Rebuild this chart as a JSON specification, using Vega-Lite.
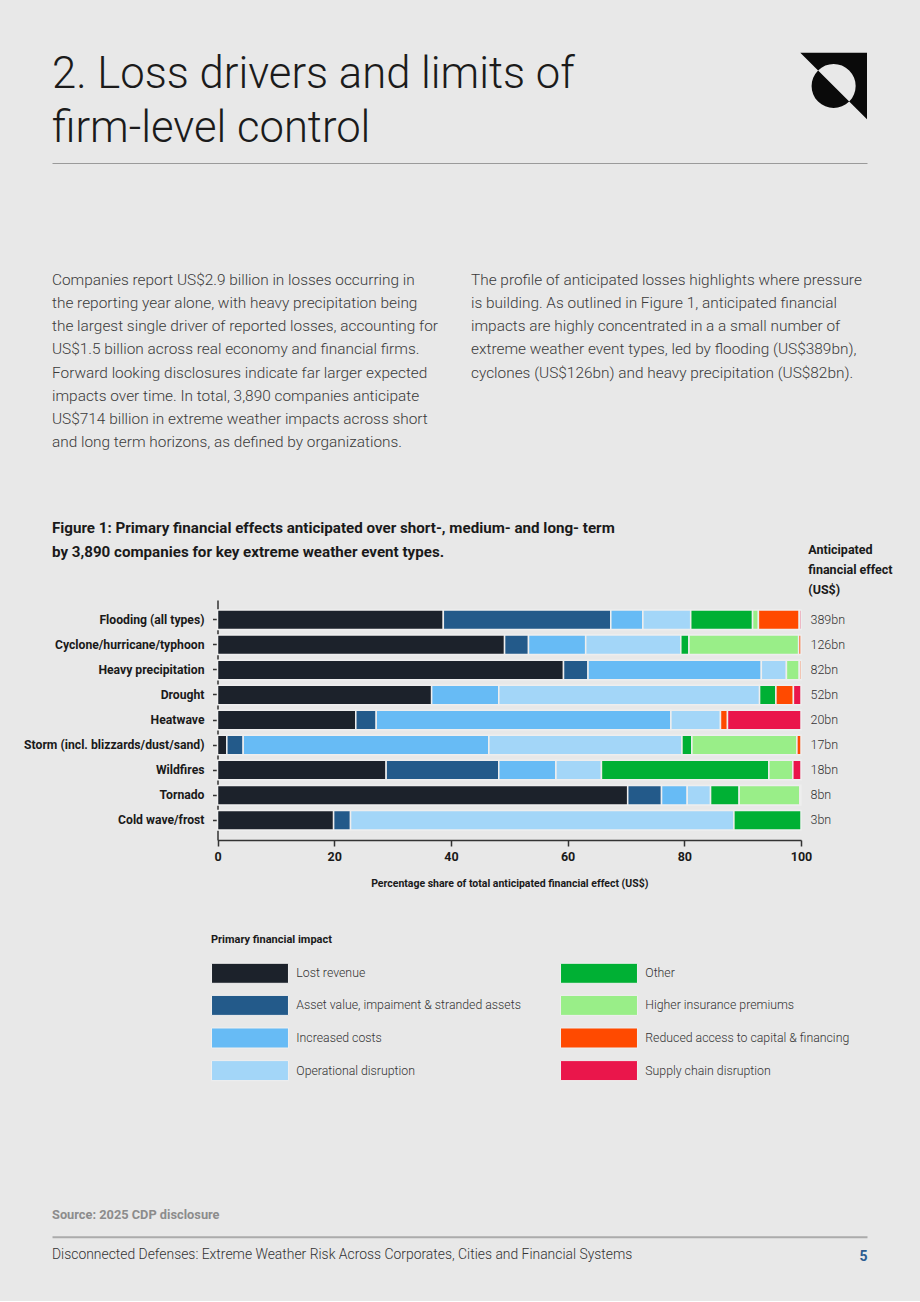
{
  "$schema": "https://vega.github.io/schema/vega-lite/v6.json",
  "background": "#e8e8e8",
  "padding": 0,
  "spacing": 0,
  "config": {
    "font": "Roboto",
    "view": {"stroke": null},
    "title": {"font": "Roboto"},
    "axis": {"labelFont": "Roboto", "titleFont": "Roboto"},
    "legend": {"labelFont": "Roboto", "titleFont": "Roboto"}
  },
  "datasets": {
    "shares": [
      {"event": "Flooding (all types)", "impact": "Lost revenue", "seq": 1, "share": 38.7},
      {"event": "Flooding (all types)", "impact": "Asset value, impaiment & stranded assets", "seq": 2, "share": 28.7},
      {"event": "Flooding (all types)", "impact": "Increased costs", "seq": 3, "share": 5.5},
      {"event": "Flooding (all types)", "impact": "Operational disruption", "seq": 4, "share": 8.2},
      {"event": "Flooding (all types)", "impact": "Other", "seq": 5, "share": 10.6},
      {"event": "Flooding (all types)", "impact": "Higher insurance premiums", "seq": 6, "share": 1.0},
      {"event": "Flooding (all types)", "impact": "Reduced access to capital & financing", "seq": 7, "share": 7.0},
      {"event": "Flooding (all types)", "impact": "Supply chain disruption", "seq": 8, "share": 0.3},
      {"event": "Cyclone/hurricane/typhoon", "impact": "Lost revenue", "seq": 1, "share": 49.2},
      {"event": "Cyclone/hurricane/typhoon", "impact": "Asset value, impaiment & stranded assets", "seq": 2, "share": 4.1},
      {"event": "Cyclone/hurricane/typhoon", "impact": "Increased costs", "seq": 3, "share": 9.8},
      {"event": "Cyclone/hurricane/typhoon", "impact": "Operational disruption", "seq": 4, "share": 16.3},
      {"event": "Cyclone/hurricane/typhoon", "impact": "Other", "seq": 5, "share": 1.4},
      {"event": "Cyclone/hurricane/typhoon", "impact": "Higher insurance premiums", "seq": 6, "share": 18.8},
      {"event": "Cyclone/hurricane/typhoon", "impact": "Reduced access to capital & financing", "seq": 7, "share": 0.4},
      {"event": "Heavy precipitation", "impact": "Lost revenue", "seq": 1, "share": 59.3},
      {"event": "Heavy precipitation", "impact": "Asset value, impaiment & stranded assets", "seq": 2, "share": 4.2},
      {"event": "Heavy precipitation", "impact": "Increased costs", "seq": 3, "share": 29.7},
      {"event": "Heavy precipitation", "impact": "Operational disruption", "seq": 4, "share": 4.3},
      {"event": "Heavy precipitation", "impact": "Higher insurance premiums", "seq": 6, "share": 2.2},
      {"event": "Heavy precipitation", "impact": "Reduced access to capital & financing", "seq": 7, "share": 0.3},
      {"event": "Drought", "impact": "Lost revenue", "seq": 1, "share": 36.7},
      {"event": "Drought", "impact": "Increased costs", "seq": 3, "share": 11.5},
      {"event": "Drought", "impact": "Operational disruption", "seq": 4, "share": 44.7},
      {"event": "Drought", "impact": "Other", "seq": 5, "share": 2.8},
      {"event": "Drought", "impact": "Reduced access to capital & financing", "seq": 7, "share": 3.0},
      {"event": "Drought", "impact": "Supply chain disruption", "seq": 8, "share": 1.3},
      {"event": "Heatwave", "impact": "Lost revenue", "seq": 1, "share": 23.7},
      {"event": "Heatwave", "impact": "Asset value, impaiment & stranded assets", "seq": 2, "share": 3.5},
      {"event": "Heatwave", "impact": "Increased costs", "seq": 3, "share": 50.5},
      {"event": "Heatwave", "impact": "Operational disruption", "seq": 4, "share": 8.5},
      {"event": "Heatwave", "impact": "Reduced access to capital & financing", "seq": 7, "share": 1.2},
      {"event": "Heatwave", "impact": "Supply chain disruption", "seq": 8, "share": 12.6},
      {"event": "Storm (incl. blizzards/dust/sand)", "impact": "Lost revenue", "seq": 1, "share": 1.6},
      {"event": "Storm (incl. blizzards/dust/sand)", "impact": "Asset value, impaiment & stranded assets", "seq": 2, "share": 2.8},
      {"event": "Storm (incl. blizzards/dust/sand)", "impact": "Increased costs", "seq": 3, "share": 42.1},
      {"event": "Storm (incl. blizzards/dust/sand)", "impact": "Operational disruption", "seq": 4, "share": 33.1},
      {"event": "Storm (incl. blizzards/dust/sand)", "impact": "Other", "seq": 5, "share": 1.7},
      {"event": "Storm (incl. blizzards/dust/sand)", "impact": "Higher insurance premiums", "seq": 6, "share": 18.0},
      {"event": "Storm (incl. blizzards/dust/sand)", "impact": "Reduced access to capital & financing", "seq": 7, "share": 0.7},
      {"event": "Wildfires", "impact": "Lost revenue", "seq": 1, "share": 28.9},
      {"event": "Wildfires", "impact": "Asset value, impaiment & stranded assets", "seq": 2, "share": 19.3},
      {"event": "Wildfires", "impact": "Increased costs", "seq": 3, "share": 9.8},
      {"event": "Wildfires", "impact": "Operational disruption", "seq": 4, "share": 7.8},
      {"event": "Wildfires", "impact": "Other", "seq": 5, "share": 28.7},
      {"event": "Wildfires", "impact": "Higher insurance premiums", "seq": 6, "share": 4.1},
      {"event": "Wildfires", "impact": "Supply chain disruption", "seq": 8, "share": 1.4},
      {"event": "Tornado", "impact": "Lost revenue", "seq": 1, "share": 70.3},
      {"event": "Tornado", "impact": "Asset value, impaiment & stranded assets", "seq": 2, "share": 5.8},
      {"event": "Tornado", "impact": "Increased costs", "seq": 3, "share": 4.4},
      {"event": "Tornado", "impact": "Operational disruption", "seq": 4, "share": 4.0},
      {"event": "Tornado", "impact": "Other", "seq": 5, "share": 4.9},
      {"event": "Tornado", "impact": "Higher insurance premiums", "seq": 6, "share": 10.4},
      {"event": "Tornado", "impact": "Supply chain disruption", "seq": 8, "share": 0.2},
      {"event": "Cold wave/frost", "impact": "Lost revenue", "seq": 1, "share": 19.9},
      {"event": "Cold wave/frost", "impact": "Asset value, impaiment & stranded assets", "seq": 2, "share": 2.9},
      {"event": "Cold wave/frost", "impact": "Operational disruption", "seq": 4, "share": 65.7},
      {"event": "Cold wave/frost", "impact": "Other", "seq": 5, "share": 11.5}
    ],
    "totals": [
      {"event": "Flooding (all types)", "total": "389bn"},
      {"event": "Cyclone/hurricane/typhoon", "total": "126bn"},
      {"event": "Heavy precipitation", "total": "82bn"},
      {"event": "Drought", "total": "52bn"},
      {"event": "Heatwave", "total": "20bn"},
      {"event": "Storm (incl. blizzards/dust/sand)", "total": "17bn"},
      {"event": "Wildfires", "total": "18bn"},
      {"event": "Tornado", "total": "8bn"},
      {"event": "Cold wave/frost", "total": "3bn"}
    ]
  },
  "vconcat": [
    {
      "width": 920,
      "height": 163,
      "title": {
        "text": ["2. Loss drivers and limits of", "firm-level control"],
        "orient": "bottom", "anchor": "start", "frame": "group", "baseline": "top",
        "offset": -108.6, "dx": 52,
        "fontSize": 43.6, "fontWeight": 300, "color": "#1b1b1b", "lineHeight": 53.5
      },
      "data": {"values": [{"emblem": "logo"}]},
      "mark": {
        "type": "point",
        "shape": "M-1,-1L1,-1L1,1Z M0.467,0.467A0.66,0.66,0,0,0,-0.467,-0.467Z M-0.467,-0.467A0.66,0.66,0,0,0,0.467,0.467Z",
        "size": 4449, "filled": true, "color": "#0a0a0a", "strokeWidth": 0, "opacity": 1,
        "xOffset": -33.35, "yOffset": 4.5
      },
      "encoding": {
        "x": {
          "datum": 1, "type": "quantitative",
          "scale": {"domain": [0, 1], "range": [52, 867]},
          "axis": {"orient": "bottom", "domain": true, "domainColor": "#9a9a9a", "domainWidth": 1, "ticks": false, "labels": false, "grid": false, "title": null}
        }
      }
    },
    {
      "hconcat": [
        {
          "width": 419, "height": 341.5,
          "data": {"values": []},
          "mark": "point",
          "title": {
            "text": [
              "Companies report US$2.9 billion in losses occurring in",
              "the reporting year alone, with heavy precipitation being",
              "the largest single driver of reported losses, accounting for",
              "US$1.5 billion across real economy and financial firms.",
              "Forward looking disclosures indicate far larger expected",
              "impacts over time. In total, 3,890 companies anticipate",
              "US$714 billion in extreme weather impacts across short",
              "and long term horizons, as defined by organizations."
            ],
            "orient": "bottom", "anchor": "start", "frame": "group", "baseline": "top",
            "offset": -231.7, "dx": 52,
            "fontSize": 15.4, "fontWeight": 300, "color": "#3a3a3a", "lineHeight": 23.2
          }
        },
        {
          "width": 501, "height": 341.5,
          "data": {"values": []},
          "mark": "point",
          "title": {
            "text": [
              "The profile of anticipated losses highlights where pressure",
              "is building. As outlined in Figure 1, anticipated financial",
              "impacts are highly concentrated in a a small number of",
              "extreme weather event types, led by flooding (US$389bn),",
              "cyclones (US$126bn) and heavy precipitation (US$82bn)."
            ],
            "orient": "bottom", "anchor": "start", "frame": "group", "baseline": "top",
            "offset": -231.7, "dx": 52,
            "fontSize": 15.4, "fontWeight": 300, "color": "#3a3a3a", "lineHeight": 23.2
          }
        }
      ],
      "spacing": 0,
      "bounds": "flush"
    },
    {
      "hconcat": [
        {
          "width": 760, "height": 95,
          "data": {"values": []},
          "mark": "point",
          "title": {
            "text": [
              "Figure 1: Primary financial effects anticipated over short-, medium- and long- term",
              "by 3,890 companies for key extreme weather event types."
            ],
            "orient": "bottom", "anchor": "start", "frame": "group", "baseline": "top",
            "offset": -79, "dx": 52,
            "fontSize": 15.15, "fontWeight": "bold", "color": "#1a1a1a", "lineHeight": 23.5
          }
        },
        {
          "width": 160, "height": 95,
          "data": {"values": []},
          "mark": "point",
          "title": {
            "text": ["Anticipated", "financial effect", "(US$)"],
            "orient": "bottom", "anchor": "start", "frame": "group", "baseline": "top",
            "offset": -55.9, "dx": 48.3,
            "fontSize": 12.5, "fontWeight": "bold", "color": "#1a1a1a", "lineHeight": 20
          }
        }
      ],
      "spacing": 0,
      "bounds": "flush"
    },
    {
      "width": 920,
      "height": 240,
      "layer": [
        {
          "data": {"name": "shares"},
          "mark": {"type": "bar", "stroke": "#eeeeee", "strokeWidth": 1.5},
          "encoding": {
            "y": {
              "field": "event", "type": "nominal",
              "sort": ["Flooding (all types)", "Cyclone/hurricane/typhoon", "Heavy precipitation", "Drought", "Heatwave", "Storm (incl. blizzards/dust/sand)", "Wildfires", "Tornado", "Cold wave/frost"],
              "scale": {"paddingInner": 0.22, "paddingOuter": 0.4},
              "axis": {
                "offset": -217.5, "title": null,
                "domainColor": "#333333", "domainWidth": 1.5,
                "tickColor": "#333333", "tickWidth": 1.5, "tickSize": 5,
                "labelPadding": 8.5, "labelFontSize": 12.2, "labelFontWeight": "bold", "labelColor": "#1a1a1a", "labelLimit": 300
              }
            },
            "x": {
              "field": "share", "type": "quantitative", "stack": "zero",
              "scale": {"domain": [0, 100], "range": [217.5, 801], "nice": false},
              "axis": {
                "values": [0, 20, 40, 60, 80, 100], "grid": false, "labelFlush": false,
                "domainColor": "#333333", "domainWidth": 1.5,
                "tickColor": "#333333", "tickWidth": 1.5, "tickSize": 6,
                "labelPadding": 4.5, "labelFontSize": 12.5, "labelFontWeight": "bold", "labelColor": "#1a1a1a",
                "title": "Percentage share of total anticipated financial effect (US$)",
                "titleFontSize": 10.5, "titleFontWeight": "bold", "titleColor": "#1a1a1a", "titlePadding": 15
              }
            },
            "color": {
              "field": "impact", "type": "nominal",
              "scale": {
                "domain": ["Lost revenue", "Asset value, impaiment & stranded assets", "Increased costs", "Operational disruption", "Other", "Higher insurance premiums", "Reduced access to capital & financing", "Supply chain disruption"],
                "range": ["#1c222b", "#235a8a", "#67bbf5", "#a3d6f8", "#00b034", "#99ee88", "#ff4a00", "#ea164b"]
              },
              "legend": {
                "orient": "none", "legendX": 211, "legendY": 934.3, "padding": 0,
                "title": "Primary financial impact",
                "values": ["Lost revenue", "Asset value, impaiment & stranded assets", "Increased costs", "Operational disruption", "Other", "Higher insurance premiums", "Reduced access to capital & financing", "Supply chain disruption"],
                "columns": 2, "columnPadding": 37, "rowPadding": 6.6,
                "symbolType": "M-4.05,-1.053H4.05V1.053H-4.05Z", "symbolSize": 361,
                "symbolStrokeColor": "#efefef", "symbolStrokeWidth": 1, "symbolOpacity": 1, "symbolOffset": 29,
                "labelOffset": 36.3, "labelFontSize": 12.3, "labelFontWeight": 300, "labelColor": "#333333", "labelLimit": 400,
                "titleFontSize": 11, "titleFontWeight": "bold", "titleColor": "#1a1a1a", "titlePadding": 17.5
              }
            },
            "order": {"field": "seq", "type": "quantitative"}
          }
        },
        {
          "data": {"name": "totals"},
          "mark": {"type": "text", "align": "left", "baseline": "middle", "dx": 9.5, "fontSize": 12.5, "fontWeight": 300, "color": "#333333"},
          "encoding": {
            "y": {
              "field": "event", "type": "nominal",
              "sort": ["Flooding (all types)", "Cyclone/hurricane/typhoon", "Heavy precipitation", "Drought", "Heatwave", "Storm (incl. blizzards/dust/sand)", "Wildfires", "Tornado", "Cold wave/frost"]
            },
            "x": {"datum": 100, "type": "quantitative"},
            "text": {"field": "total"}
          }
        }
      ]
    },
    {
      "width": 920,
      "height": 347.75,
      "title": {
        "text": "Source: 2025 CDP disclosure",
        "orient": "bottom", "anchor": "start", "frame": "group", "baseline": "top",
        "offset": -27.5, "dx": 52,
        "fontSize": 12.8, "fontWeight": "bold", "color": "#8c8c8c"
      },
      "data": {"values": []},
      "mark": "point",
      "encoding": {
        "x": {
          "field": "v", "type": "quantitative",
          "scale": {"domain": [0, 1], "range": [52, 867]},
          "axis": {"orient": "bottom", "domain": true, "domainColor": "#ababab", "domainWidth": 2, "ticks": false, "labels": false, "grid": false, "title": null}
        }
      }
    },
    {
      "hconcat": [
        {
          "width": 800, "height": 64,
          "data": {"values": []},
          "mark": "point",
          "title": {
            "text": "Disconnected Defenses: Extreme Weather Risk Across Corporates, Cities and Financial Systems",
            "orient": "bottom", "anchor": "start", "frame": "group", "baseline": "top",
            "offset": -53.5, "dx": 52,
            "fontSize": 13.9, "fontWeight": 300, "color": "#333333"
          }
        },
        {
          "width": 120, "height": 64,
          "data": {"values": []},
          "mark": "point",
          "title": {
            "text": "5",
            "orient": "bottom", "anchor": "end", "frame": "group", "baseline": "top",
            "offset": -51.5, "dx": -52.5,
            "fontSize": 14, "fontWeight": "bold", "color": "#2b5d91"
          }
        }
      ],
      "spacing": 0,
      "bounds": "flush"
    }
  ]
}
